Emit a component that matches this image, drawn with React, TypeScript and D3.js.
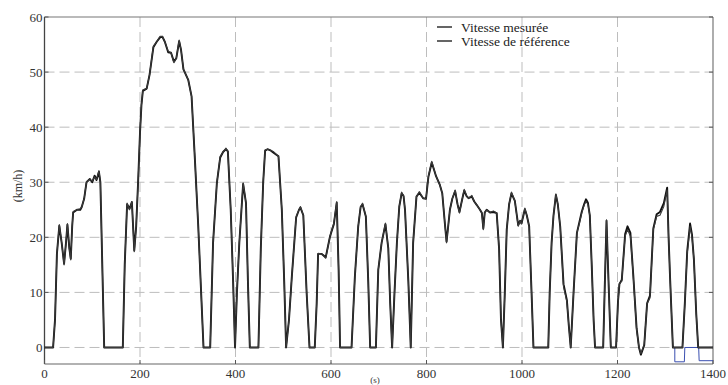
import React from "react";
import * as d3 from "d3";

const xTicks = [0, 200, 400, 600, 800, 1000, 1200, 1400];
const yTicks = [0, 10, 20, 30, 40, 50, 60];
const legendLabels = ["Vitesse mesurée", "Vitesse de référence"];

// [time (s), speed (km/h)]
const referenceSpeed: [number, number][] = [
  [0, 0], [18, 0], [22, 5], [26, 17], [31, 22.3], [36, 19], [41, 15], [45, 19], [48, 22.5], [52, 18],
  [55, 15.9], [58, 22], [60, 24.7], [68, 25], [75, 25.2], [78, 25.5], [83, 27], [88, 30.1], [95, 30.5],
  [100, 30.2], [105, 31], [109, 30.5], [114, 32.1], [117, 30], [125, 0], [164, 0], [168, 15], [173, 26.2],
  [178, 25], [183, 26.5], [188, 17.4], [192, 22], [196, 30], [200, 39], [203, 44], [206, 46.8], [214, 47],
  [220, 49.5], [228, 54.7], [235, 55.5], [242, 56.5], [247, 56.5], [252, 55.5], [259, 53.8], [265, 53.5],
  [271, 51.7], [276, 52.5], [282, 55.8], [286, 54], [291, 50.5], [301, 48.6], [308, 45.6], [315, 34.1],
  [322, 22], [328, 10], [333, 0], [347, 0], [353, 19], [361, 29.9], [368, 34.7], [374, 35.5], [380, 36.2],
  [384, 35.6], [390, 25], [395, 12], [399, 0], [403, 10], [408, 19], [416, 29.9], [422, 26.2], [426, 12],
  [430, 0], [448, 0], [453, 18], [458, 30], [462, 35.9], [467, 36], [473, 35.8], [479, 35.6], [490, 34.7],
  [497, 25], [502, 12], [506, 0], [512, 5], [518, 12.9], [527, 23.8], [533, 25], [536, 25.6], [542, 24],
  [549, 9.9], [555, 0], [566, 0], [570, 8], [573, 17.1], [580, 17], [589, 16.2], [598, 20.2], [606, 22.6],
  [612, 26.5], [616, 14], [619, 0], [643, 0], [650, 12.9], [657, 22], [662, 25.5], [666, 26.2], [673, 23.8],
  [678, 12], [682, 0], [694, 0], [699, 14.1], [706, 19], [714, 22.6], [720, 18], [724, 8], [728, 0],
  [733, 10], [738, 19], [743, 25.6], [748, 28.2], [752, 27.5], [755, 25], [762, 12], [767, 0], [772, 19],
  [779, 27.4], [785, 28.3], [793, 27.1], [799, 27], [804, 31.1], [811, 33.8], [820, 31.1], [828, 29.5],
  [833, 28], [839, 22], [842, 19], [849, 25], [854, 27], [860, 28.6], [865, 26], [869, 24.4], [875, 27],
  [879, 28.7], [884, 27.5], [888, 27.1], [895, 27.6], [900, 26.5], [905, 25.9], [912, 25], [916, 24.4],
  [919, 21.4], [922, 24.5], [926, 25], [933, 24.5], [940, 24.8], [947, 24.4], [952, 18], [956, 5], [960, 0],
  [964, 10], [968, 21.4], [973, 26], [978, 28.2], [985, 26.6], [992, 22], [996, 23], [999, 22.5],
  [1006, 25.3], [1010, 24], [1015, 22], [1020, 10], [1024, 0], [1055, 0], [1058, 10], [1062, 19],
  [1066, 24], [1071, 27.9], [1075, 26], [1080, 22], [1087, 11], [1094, 8.3], [1098, 4], [1102, 0],
  [1108, 10], [1115, 20.8], [1120, 22.5], [1125, 24.4], [1130, 25.8], [1134, 26.5], [1138, 26], [1142, 24],
  [1146, 15], [1150, 5], [1153, 0], [1170, 0], [1173, 10], [1177, 23.2], [1180, 15], [1186, 0], [1197, 0],
  [1201, 8], [1204, 11.7], [1209, 12], [1213, 17], [1216, 20.2], [1221, 21.4], [1227, 20.2], [1233, 12.9],
  [1240, 3.2], [1245, 0], [1249, -1.1], [1256, 0.6], [1262, 8], [1268, 9], [1275, 21.4], [1282, 23.8],
  [1289, 24], [1297, 25.6], [1304, 28.6], [1307, 20], [1310, 12.9], [1316, 0], [1336, 0], [1341, 8],
  [1346, 17], [1352, 22], [1356, 20], [1360, 16], [1365, 6], [1369, 0], [1400, 0],
];

const measuredSpeed: [number, number][] = [
  [0, 0], [18, 0], [22, 5], [26, 17], [31, 22.1], [36, 19], [41, 15.2], [45, 19], [48, 22.3], [52, 18],
  [55, 16.1], [58, 22], [60, 24.5], [68, 25], [75, 25], [78, 25.5], [83, 27], [88, 30], [95, 30.6],
  [100, 30], [105, 31.2], [109, 30.4], [114, 31.9], [117, 30], [125, 0], [164, 0], [168, 15], [173, 26],
  [178, 25.2], [183, 26.4], [188, 17.6], [192, 22], [196, 30], [200, 39], [203, 44], [206, 46.6], [214, 47],
  [220, 49.5], [228, 54.5], [235, 55.5], [242, 56.3], [247, 56.4], [252, 55.5], [259, 53.6], [265, 53.5],
  [271, 51.9], [276, 52.5], [282, 55.6], [286, 54], [291, 50.5], [301, 48.6], [308, 45.6], [315, 34.1],
  [322, 22], [328, 10], [333, 0], [347, 0], [353, 19], [361, 29.9], [368, 34.5], [374, 35.5], [380, 36],
  [384, 35.6], [390, 25], [395, 12], [399, 0], [403, 10], [408, 19], [416, 29.7], [422, 26.2], [426, 12],
  [430, 0], [448, 0], [453, 18], [458, 30], [462, 35.7], [467, 36], [473, 35.8], [479, 35.4], [490, 34.7],
  [497, 25], [502, 12], [506, 0], [512, 5], [518, 12.9], [527, 23.6], [533, 25], [536, 25.4], [542, 24],
  [549, 9.9], [555, 0], [566, 0], [570, 8], [573, 17], [580, 17], [589, 16.4], [598, 20.2], [606, 22.4],
  [612, 26.3], [616, 14], [619, 0], [643, 0], [650, 12.9], [657, 22], [662, 25.5], [666, 26], [673, 23.8],
  [678, 12], [682, 0], [694, 0], [699, 14.1], [706, 19], [714, 22.4], [720, 18], [724, 8], [728, 0],
  [733, 10], [738, 19], [743, 25.6], [748, 28], [752, 27.5], [755, 25], [762, 12], [767, 0], [772, 19],
  [779, 27.4], [785, 28.1], [793, 27.1], [799, 27], [804, 31], [811, 33.6], [820, 31.1], [828, 29.5],
  [833, 28], [839, 22], [842, 19.2], [849, 25], [854, 27], [860, 28.4], [865, 26], [869, 24.6], [875, 27],
  [879, 28.5], [884, 27.5], [888, 27.1], [895, 27.4], [900, 26.5], [905, 25.9], [912, 25], [916, 24.4],
  [919, 21.6], [922, 24.5], [926, 25], [933, 24.5], [940, 24.6], [947, 24.4], [952, 18], [956, 5], [960, 0],
  [964, 10], [968, 21.4], [973, 26], [978, 28], [985, 26.6], [992, 22.2], [996, 23], [999, 22.5],
  [1006, 25.1], [1010, 24], [1015, 22], [1020, 10], [1024, 0], [1055, 0], [1058, 10], [1062, 19],
  [1066, 24], [1071, 27.7], [1075, 26], [1080, 22], [1087, 11.5], [1094, 8.6], [1098, 4], [1102, 0],
  [1108, 10], [1115, 20.8], [1120, 22.7], [1125, 24.6], [1130, 26], [1134, 26.9], [1138, 26.3], [1142, 24],
  [1146, 15], [1150, 5], [1153, 0], [1170, 0], [1173, 10], [1177, 23], [1180, 15], [1186, 0], [1197, 0],
  [1201, 8.3], [1204, 11.5], [1209, 12.3], [1213, 17], [1216, 20.6], [1221, 22], [1227, 20.8], [1233, 13.2],
  [1240, 3.5], [1245, 0], [1249, -1.3], [1256, 0.4], [1262, 8], [1268, 9.4], [1275, 21.6], [1282, 24.2],
  [1289, 24.6], [1297, 26.2], [1304, 29], [1307, 20], [1310, 12.9], [1316, 0], [1336, 0], [1341, 8],
  [1346, 17.5], [1352, 22.5], [1356, 20.5], [1360, 16], [1365, 6], [1369, 0], [1400, 0],
];

// blue trace visible at the end of the record
const blueTrace: [number, number][] = [
  [1315, 0], [1320, 0], [1320, -2.6], [1340, -2.6], [1341, 0], [1400, 0],
];
const blueTrace2: [number, number][] = [
  [1370, 0], [1371, -2.4], [1400, -2.4],
];

const W = 728;
const H = 385;

export default function App() {
  const x = d3.scaleLinear().domain([0, 1400]).range([44.5, 713]);
  const y = d3.scaleLinear().domain([-3, 60]).range([364, 17]);
  const line = d3
    .line<[number, number]>()
    .x((d) => x(d[0]))
    .y((d) => y(d[1]))
    .curve(d3.curveLinear);

  const font = "'Liberation Serif', 'DejaVu Serif', serif";
  const grid = "#bdbdbd";
  const left = x(0);
  const right = x(1400);
  const top = y(60);
  const bottom = y(-3);

  return (
    <svg
      width={W}
      height={H}
      style={{ position: "absolute", left: 0, top: 0, background: "#fff" }}
      fontFamily={font}
    >
      <rect x={0} y={0} width={W} height={H} fill="#fff" />
      {/* grid */}
      {yTicks
        .filter((v) => v !== 60)
        .map((v) => (
          <line
            key={"gy" + v}
            x1={left}
            x2={right}
            y1={y(v)}
            y2={y(v)}
            stroke={grid}
            strokeWidth={1}
            strokeDasharray="10,5"
          />
        ))}
      {xTicks
        .filter((v) => v !== 0 && v !== 1400)
        .map((v) => (
          <line
            key={"gx" + v}
            x1={x(v)}
            x2={x(v)}
            y1={top}
            y2={bottom}
            stroke={grid}
            strokeWidth={1}
            strokeDasharray="10,5"
          />
        ))}
      {/* frame */}
      <line x1={left} x2={right} y1={top} y2={top} stroke="#777" strokeWidth={1.2} />
      <line x1={right} x2={right} y1={top} y2={bottom} stroke="#777" strokeWidth={1.2} />
      <line x1={left} x2={right} y1={bottom} y2={bottom} stroke="#666" strokeWidth={1.2} />
      <line x1={left} x2={left} y1={top} y2={bottom} stroke="#444" strokeWidth={1.3} />
      {/* ticks */}
      {yTicks.map((v) => (
        <g key={"ty" + v}>
          <line x1={left} x2={left + 4} y1={y(v)} y2={y(v)} stroke="#555" />
          <line x1={right} x2={right - 4} y1={y(v)} y2={y(v)} stroke="#555" />
        </g>
      ))}
      {xTicks.map((v) => (
        <line key={"tx" + v} x1={x(v)} x2={x(v)} y1={bottom} y2={bottom - 4} stroke="#555" />
      ))}
      {/* tick labels */}
      {yTicks.map((v) => (
        <text
          key={"ly" + v}
          x={left - 2}
          y={y(v) + 4.5}
          textAnchor="end"
          fontSize={13}
          fill="#333"
        >
          {v}
        </text>
      ))}
      {xTicks.map((v) => (
        <text key={"lx" + v} x={x(v)} y={378} textAnchor="middle" fontSize={13} fill="#333">
          {v}
        </text>
      ))}
      <text x={375} y={383} textAnchor="middle" fontSize={9} fill="#333">
        (s)
      </text>
      <text
        transform={`translate(22,${186}) rotate(-90)`}
        textAnchor="middle"
        fontSize={12}
        fill="#333"
      >
        (km/h)
      </text>
      {/* blue trace */}
      <path d={line(blueTrace) || ""} fill="none" stroke="#3a4fb0" strokeWidth={1} />
      <path d={line(blueTrace2) || ""} fill="none" stroke="#3a4fb0" strokeWidth={1} />
      {/* series */}
      <path d={line(measuredSpeed) || ""} fill="none" stroke="#111" strokeWidth={1.9} strokeLinejoin="round" />
      <path d={line(referenceSpeed) || ""} fill="none" stroke="#3a3a3a" strokeWidth={1.1} strokeLinejoin="round" />
      {/* legend */}
      {legendLabels.map((lab, i) => (
        <g key={lab}>
          <line x1={437} x2={452} y1={27 + i * 14} y2={27 + i * 14} stroke="#111" strokeWidth={1.3} />
          <text x={461} y={31.5 + i * 14} fontSize={13.5} fill="#222">
            {lab}
          </text>
        </g>
      ))}
    </svg>
  );
}
